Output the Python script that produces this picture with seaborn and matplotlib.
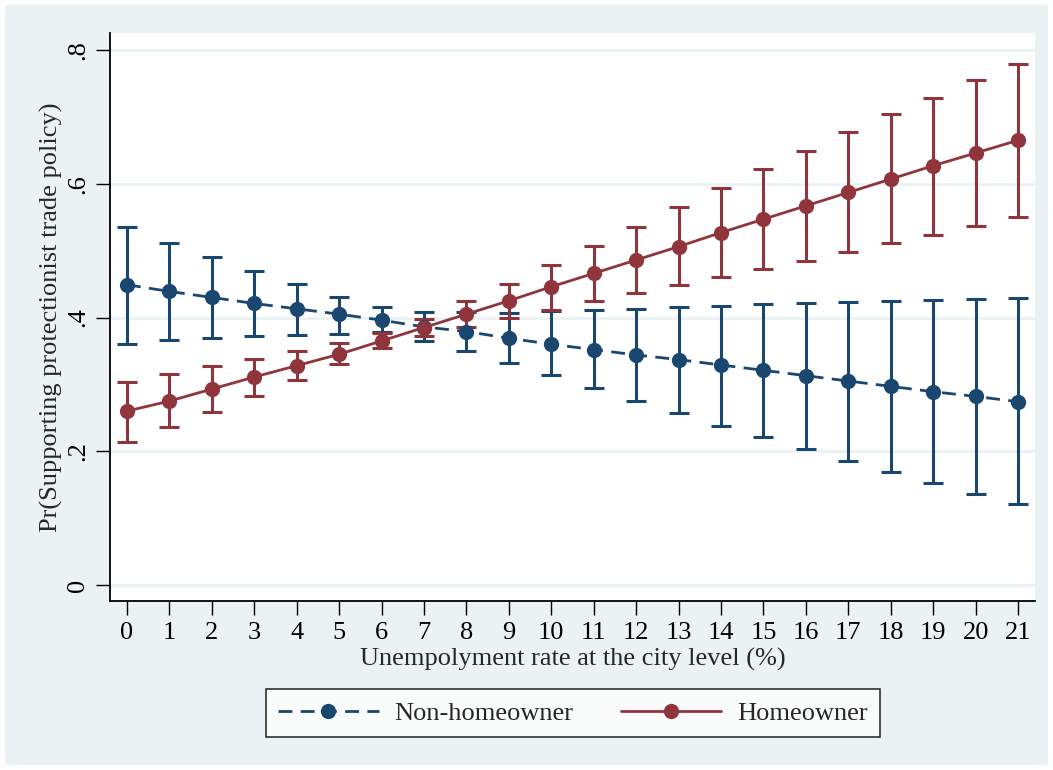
import numpy as np
import pandas as pd
import matplotlib
matplotlib.use("Agg")
import matplotlib.pyplot as plt
from matplotlib.patches import Rectangle
from matplotlib.lines import Line2D
import seaborn as sns

# Unemployment rate at the city level (%)
unemployment = list(range(0, 22))

# Predicted probabilities with 95% confidence bounds
non_owner_pr = [0.449, 0.439, 0.430, 0.421, 0.413, 0.405, 0.396, 0.386, 0.379, 0.369, 0.360,
                0.352, 0.344, 0.337, 0.329, 0.321, 0.313, 0.305, 0.297, 0.289, 0.282, 0.274]
non_owner_lo = [0.361, 0.366, 0.369, 0.372, 0.374, 0.375, 0.379, 0.365, 0.350, 0.332, 0.314,
                0.294, 0.275, 0.257, 0.238, 0.221, 0.203, 0.185, 0.169, 0.152, 0.136, 0.121]
non_owner_hi = [0.535, 0.512, 0.491, 0.470, 0.450, 0.431, 0.415, 0.408, 0.408, 0.407, 0.410,
                0.411, 0.412, 0.415, 0.417, 0.420, 0.421, 0.423, 0.425, 0.426, 0.427, 0.429]

owner_pr = [0.260, 0.275, 0.293, 0.311, 0.328, 0.345, 0.365, 0.385, 0.405, 0.425, 0.446,
            0.466, 0.486, 0.506, 0.527, 0.547, 0.567, 0.587, 0.607, 0.627, 0.646, 0.665]
owner_lo = [0.214, 0.236, 0.258, 0.283, 0.306, 0.331, 0.354, 0.372, 0.386, 0.400, 0.411,
            0.424, 0.436, 0.449, 0.460, 0.473, 0.485, 0.498, 0.511, 0.524, 0.537, 0.551]
owner_hi = [0.303, 0.315, 0.327, 0.338, 0.350, 0.362, 0.377, 0.398, 0.424, 0.450, 0.479,
            0.507, 0.536, 0.565, 0.593, 0.622, 0.649, 0.677, 0.704, 0.729, 0.755, 0.779]

groups = ["Non-homeowner", "Homeowner"]
y_ticks = [0, 0.2, 0.4, 0.6, 0.8]
y_tick_labels = ["0", ".2", ".4", ".6", ".8"]

navy = "#1A476F"
maroon = "#90353B"
bg = "#EAF2F3"
palette = {"Non-homeowner": navy, "Homeowner": maroon}

df = pd.DataFrame({
    "rate": unemployment * 2,
    "pr": non_owner_pr + owner_pr,
    "lo": non_owner_lo + owner_lo,
    "hi": non_owner_hi + owner_hi,
    "group": [groups[0]] * len(unemployment) + [groups[1]] * len(unemployment),
})

sns.set_theme(style="white")
plt.rcParams["font.family"] = ["Liberation Serif", "DejaVu Serif"]

FS = 19

fig = plt.figure(figsize=(10.53, 7.70), dpi=100)
fig.patch.set_facecolor("white")
fig.add_artist(Rectangle((5 / 1053, 5 / 770), 1043 / 1053, 760 / 770,
                         transform=fig.transFigure, facecolor=bg,
                         edgecolor="none", zorder=-10))

ax = fig.add_axes([110 / 1053, 1 - 601 / 770, 925 / 1053, 568 / 770])
ax.set_facecolor("white")

# Confidence interval caps
for g in groups:
    sub = df[df["group"] == g]
    ax.errorbar(sub["rate"], sub["pr"],
                yerr=[sub["pr"] - sub["lo"], sub["hi"] - sub["pr"]],
                fmt="none", ecolor=palette[g], elinewidth=2.2,
                capsize=7, capthick=2.2, zorder=2)

sns.lineplot(data=df, x="rate", y="pr", hue="group", style="group",
             hue_order=groups, style_order=groups, palette=palette,
             dashes={"Non-homeowner": (5, 3), "Homeowner": ""},
             markers={"Non-homeowner": "o", "Homeowner": "o"},
             markersize=11, markeredgewidth=0, linewidth=2.0,
             legend=False, ax=ax, zorder=3)

ax.set_xlim(-0.4, 21.4)
ax.set_ylim(-0.024, 0.8255)
ax.set_xticks(unemployment)
ax.set_xticklabels([str(v) for v in unemployment], fontsize=FS)
ax.set_yticks(y_ticks)
ax.set_yticklabels(y_tick_labels, fontsize=FS, rotation=90, va="center")
ax.tick_params(axis="both", direction="out", length=10, width=1.0,
               color="black", pad=5, labelcolor="black")
ax.tick_params(axis="both", which="both", bottom=True, left=True)

for y in y_ticks:
    ax.axhline(y, color=bg, linewidth=2.0, zorder=0)

for side in ["top", "right"]:
    ax.spines[side].set_visible(False)
for side in ["left", "bottom"]:
    ax.spines[side].set_color("black")
    ax.spines[side].set_linewidth(1.3)

ax.set_xlabel("Unempolyment rate at the city level (%)", fontsize=FS, labelpad=3)
ax.set_ylabel("Pr(Supporting protectionist trade policy)", fontsize=FS, labelpad=3)

handles = [
    Line2D([], [], color=navy, linestyle=(0, (5, 3)), linewidth=2.0,
           marker="o", markersize=11, markeredgewidth=0),
    Line2D([], [], color=maroon, linestyle="-", linewidth=2.0,
           marker="o", markersize=11, markeredgewidth=0),
]
leg = fig.legend(handles, groups, loc="center", ncol=2,
                 bbox_to_anchor=(573 / 1053, 1 - 713 / 770),
                 fontsize=FS, frameon=True, fancybox=False,
                 edgecolor="black", handlelength=3.8, columnspacing=1.8,
                 handletextpad=0.6, borderpad=0.45)
leg.get_frame().set_linewidth(1.2)
leg.get_frame().set_facecolor("white")

fig.savefig("out.png", dpi=100, facecolor=fig.get_facecolor())
